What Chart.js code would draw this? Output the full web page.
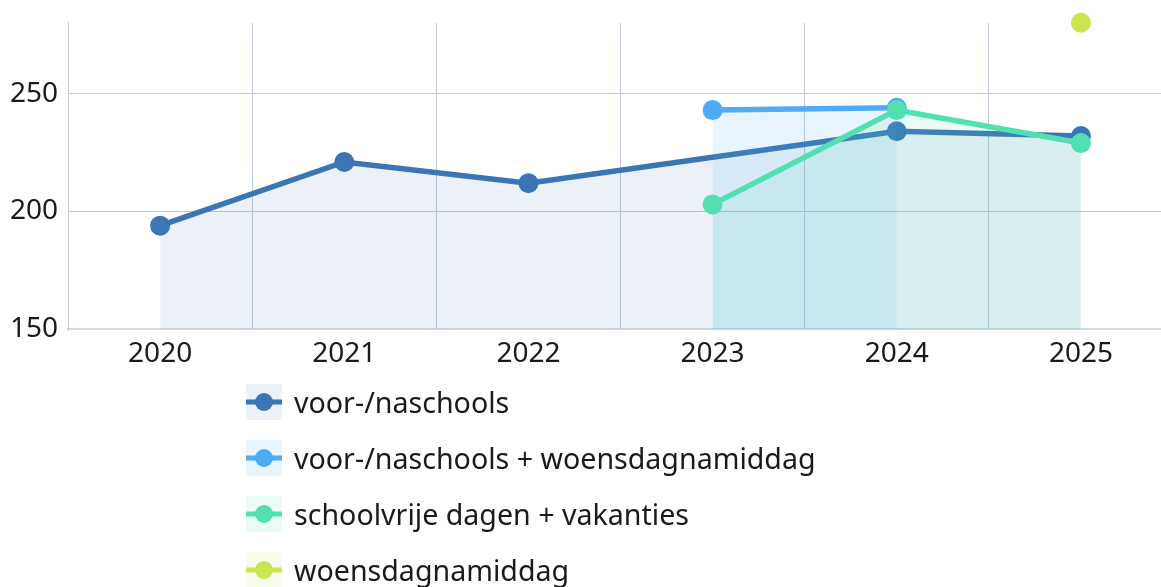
<!DOCTYPE html>
<html>
<head>
<meta charset="utf-8">
<script src="https://cdn.jsdelivr.net/npm/chart.js@4.4.1/dist/chart.umd.min.js"></script>
<style>
  html, body { margin: 0; padding: 0; background: #fff; overflow: hidden; }
  #wrap { position: relative; width: 1183px; height: 383px; margin-top: -4px; }
  #legend { position: absolute; left: 246px; top: 384px; font-family: "Noto Sans", sans-serif; font-size: 28.6px; color: #1a1a1a; }
  .item { height: 56px; display: flex; align-items: flex-start; }
  .item canvas { margin-right: 12px; }
  .item span { line-height: 36px; }
</style>
</head>
<body>
<div id="wrap"><canvas id="myChart" width="1183" height="383"></canvas></div>
<div id="legend"></div>
<script>
const years = ['2020', '2021', '2022', '2023', '2024', '2025'];
const voorNaschools = [194, 221, 212, null, 234, 232];
const voorNaschoolsWoensdag = [null, null, null, 243, 244, null];
const schoolvrijeDagen = [null, null, null, 203, 243, 229];
const woensdagnamiddag = [null, null, null, null, null, 280];
const names = ['voor-/naschools', 'voor-/naschools + woensdagnamiddag', 'schoolvrije dagen + vakanties', 'woensdagnamiddag'];
const lineColors = ['#3a76b4', '#4dabf7', '#52dfb2', '#c9e650'];
const fillColors = ['rgba(58,118,180,0.1)', 'rgba(77,171,247,0.12)', 'rgba(82,223,178,0.12)', 'rgba(201,230,80,0.12)'];
const yTicks = [150, 200, 250];

const series = [voorNaschools, voorNaschoolsWoensdag, schoolvrijeDagen, woensdagnamiddag];
const datasets = series.map((d, i) => ({
    label: names[i],
    data: d,
    borderColor: lineColors[i],
    backgroundColor: fillColors[i],
    pointBackgroundColor: lineColors[i],
    pointBorderWidth: 0,
    pointRadius: 10,
    borderWidth: 5.5,
    fill: 'origin',
    spanGaps: true,
    tension: 0,
    clip: false,
    order: 3 - i
}));

const ctx = document.getElementById('myChart').getContext('2d');
const myChart = new Chart(ctx, {
    type: 'line',
    data: { labels: years, datasets: datasets },
    options: {
        responsive: false,
        animation: false,
        devicePixelRatio: 1,
        layout: { padding: { top: 14, left: 0, right: 0 } },
        plugins: { legend: { display: false }, tooltip: { enabled: false } },
        scales: {
            x: {
                offset: true,
                grid: { offset: true, color: '#c2c9d6', drawTicks: false },
                border: { color: '#d3d9e3', width: 2 },
                ticks: { color: '#1a1a1a', font: { family: 'Noto Sans', size: 28 }, padding: 8 }
            },
            y: {
                min: 150,
                max: 280,
                afterBuildTicks: scale => { scale.ticks = yTicks.map(v => ({ value: v })); },
                grid: { color: '#c2c9d6', drawTicks: false },
                border: { color: '#c2c9d6' },
                ticks: { color: '#1a1a1a', font: { family: 'Noto Sans', size: 28 }, padding: 10 }
            }
        }
    }
});

// html legend
let legend = document.getElementById('legend');
datasets.forEach((ds, i) => {
    let row = document.createElement('div');
    row.className = 'item';
    let c = document.createElement('canvas');
    c.width = 36; c.height = 36;
    let g = c.getContext('2d');
    g.fillStyle = ds.backgroundColor;
    g.fillRect(0, 0, 36, 36);
    g.fillStyle = ds.borderColor;
    g.fillRect(0, 15.5, 36, 5);
    g.beginPath();
    g.arc(18, 18, 9, 0, Math.PI * 2);
    g.fill();
    row.appendChild(c);
    let s = document.createElement('span');
    s.textContent = ds.label;
    row.appendChild(s);
    legend.appendChild(row);
});
</script>
</body>
</html>
